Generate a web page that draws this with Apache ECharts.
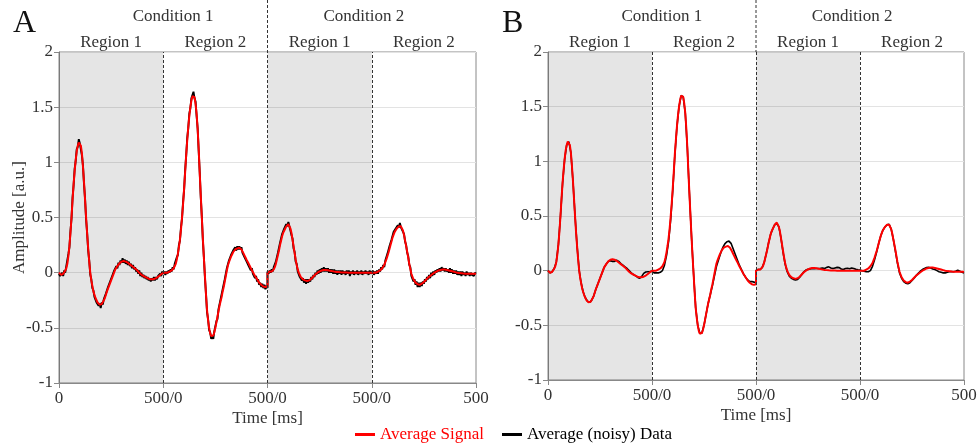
<!DOCTYPE html>
<html><head><meta charset="utf-8">
<script src="https://cdn.jsdelivr.net/npm/echarts@6/dist/echarts.min.js"></script>
<style>html,body{margin:0;padding:0;background:#fff}#c{width:980px;height:446px}</style>
</head><body><div id="c"></div>
<script>
// ---------------- data ----------------
const segLength = 500;           // ms per region
const tickLabels = ['0', '500/0', '500/0', '500/0', '500'];
const panelLetters = ['A', 'B'];
const conditionNames = ['Condition 1', 'Condition 2'];
const regionNames = ['Region 1', 'Region 2', 'Region 1', 'Region 2'];
const shadedRegions = [[0, 500], [1000, 1500]];
const boundaries = [500, 1000, 1500];
const seriesNames = ['Average Signal', 'Average (noisy) Data'];

// Average signal, 5 ms steps, one array per region
const signalC1R1 = [
 0.0,-0.01,-0.02,-0.02,-0.01,0.0,0.02,0.04,0.08,0.15,
 0.24,0.36,0.5,0.66,0.8,0.92,1.02,1.1,1.15,1.18,
 1.18,1.15,1.08,0.96,0.82,0.66,0.5,0.35,0.22,0.1,
 0.0,-0.07,-0.12,-0.17,-0.2,-0.23,-0.25,-0.27,-0.28,-0.29,
 -0.29,-0.285,-0.27,-0.25,-0.23,-0.2,-0.17,-0.145,-0.12,-0.095,
 -0.07,-0.045,-0.02,0.005,0.03,0.045,0.06,0.075,0.085,0.095,
 0.1,0.105,0.105,0.105,0.1,0.095,0.09,0.083,0.075,0.068,
 0.06,0.052,0.045,0.037,0.03,0.02,0.01,0.0,-0.01,-0.018,
 -0.025,-0.03,-0.035,-0.04,-0.045,-0.05,-0.055,-0.058,-0.06,-0.06,
 -0.06,-0.058,-0.055,-0.05,-0.045,-0.038,-0.03,-0.022,-0.015,-0.008,
 0.0];
const signalC1R2 = [
 0.0,0.0,0.0,0.0,0.0,0.005,0.01,0.015,0.02,0.03,
 0.04,0.06,0.08,0.12,0.17,0.23,0.3,0.39,0.5,0.62,
 0.76,0.91,1.07,1.2,1.32,1.42,1.5,1.56,1.6,1.61,
 1.59,1.53,1.44,1.3,1.12,0.9,0.7,0.5,0.31,0.13,
 -0.03,-0.2,-0.34,-0.43,-0.5,-0.55,-0.575,-0.58,-0.57,-0.54,
 -0.5,-0.45,-0.4,-0.35,-0.3,-0.26,-0.22,-0.17,-0.13,-0.08,
 -0.03,0.02,0.065,0.095,0.12,0.145,0.165,0.185,0.2,0.21,
 0.215,0.22,0.225,0.225,0.22,0.21,0.195,0.175,0.155,0.135,
 0.115,0.097,0.08,0.06,0.04,0.022,0.005,-0.013,-0.03,-0.045,
 -0.06,-0.075,-0.09,-0.1,-0.11,-0.118,-0.125,-0.128,-0.13,-0.128,
 -0.125];
const signalC2R1 = [
 0.0,0.005,0.01,0.01,0.01,0.02,0.03,0.05,0.08,0.12,
 0.16,0.2,0.25,0.29,0.33,0.36,0.38,0.4,0.42,0.435,
 0.44,0.43,0.4,0.36,0.3,0.24,0.18,0.12,0.07,0.03,
 0.0,-0.02,-0.04,-0.05,-0.06,-0.065,-0.07,-0.073,-0.075,-0.073,
 -0.07,-0.063,-0.055,-0.045,-0.035,-0.025,-0.015,-0.007,0.0,0.006,
 0.012,0.016,0.02,0.023,0.025,0.025,0.025,0.024,0.022,0.02,
 0.018,0.016,0.014,0.012,0.01,0.008,0.007,0.006,0.005,0.004,
 0.003,0.003,0.002,0.002,0.002,0.001,0.001,0.001,0.0,0.0,
 0.0,0.0,0.0,0.0,0.0,0.0,0.0,0.0,0.0,0.0,
 0.0,0.0,0.0,0.0,0.0,0.0,0.0,0.0,0.0,0.0,
 0.0];
const signalC2R2 = [
 0.0,0.0,0.0,0.0,0.0,0.005,0.01,0.015,0.02,0.03,
 0.04,0.055,0.07,0.095,0.12,0.15,0.18,0.215,0.25,0.285,
 0.32,0.345,0.37,0.385,0.4,0.41,0.42,0.423,0.42,0.405,
 0.38,0.34,0.29,0.24,0.19,0.135,0.08,0.035,-0.01,-0.035,
 -0.06,-0.075,-0.09,-0.1,-0.105,-0.108,-0.11,-0.105,-0.1,-0.093,
 -0.085,-0.075,-0.065,-0.055,-0.045,-0.037,-0.03,-0.022,-0.015,-0.007,
 0.0,0.005,0.01,0.015,0.02,0.023,0.025,0.027,0.028,0.028,
 0.028,0.027,0.025,0.022,0.02,0.017,0.015,0.012,0.01,0.007,
 0.005,0.002,0.0,-0.002,-0.004,-0.005,-0.006,-0.007,-0.008,-0.008,
 -0.009,-0.009,-0.01,-0.01,-0.01,-0.01,-0.01,-0.01,-0.01,-0.01,
 -0.01];

// Panel A: noisy averaged data, 5 ms steps
const noisyC1R1 = [
 -0.01,-0.03,-0.04,0.0,-0.03,0.02,0.0,0.06,0.07,0.17,
 0.23,0.38,0.49,0.68,0.79,0.94,1.01,1.12,1.14,1.21,
 1.17,1.16,1.06,0.97,0.8,0.67,0.48,0.36,0.2,0.11,
 -0.02,-0.06,-0.14,-0.16,-0.22,-0.22,-0.27,-0.26,-0.3,-0.28,
 -0.32,-0.27,-0.29,-0.24,-0.25,-0.19,-0.18,-0.13,-0.14,-0.08,
 -0.09,-0.03,-0.04,0.02,0.01,0.06,0.04,0.09,0.07,0.11,
 0.09,0.13,0.09,0.12,0.08,0.11,0.07,0.1,0.06,0.08,
 0.04,0.07,0.03,0.05,0.01,0.03,-0.01,0.02,-0.03,0.0,
 -0.04,-0.02,-0.05,-0.03,-0.06,-0.04,-0.07,-0.05,-0.08,-0.05,
 -0.07,-0.04,-0.07,-0.04,-0.06,-0.03,-0.04,-0.01,-0.03,0.01,
 -0.01];
const noisyC1R2 = [
 -0.01,0.01,-0.02,0.01,-0.01,0.02,0.0,0.03,0.01,0.05,
 0.03,0.08,0.07,0.14,0.16,0.25,0.29,0.41,0.49,0.64,
 0.75,0.93,1.06,1.22,1.31,1.44,1.49,1.58,1.59,1.64,
 1.58,1.55,1.42,1.31,1.1,0.91,0.68,0.51,0.29,0.14,
 -0.05,-0.19,-0.36,-0.42,-0.52,-0.54,-0.6,-0.57,-0.6,-0.53,
 -0.52,-0.44,-0.42,-0.33,-0.32,-0.24,-0.23,-0.15,-0.15,-0.06,
 -0.05,0.04,0.05,0.11,0.11,0.16,0.15,0.2,0.19,0.23,
 0.2,0.24,0.21,0.24,0.21,0.23,0.18,0.19,0.14,0.15,
 0.1,0.11,0.06,0.07,0.02,0.04,-0.01,0.0,-0.05,-0.03,
 -0.08,-0.06,-0.11,-0.09,-0.13,-0.1,-0.14,-0.11,-0.15,-0.12,
 -0.14];
const noisyC2R1 = [
 0.01,-0.01,0.02,0.0,0.03,0.01,0.05,0.04,0.1,0.11,
 0.18,0.19,0.27,0.28,0.35,0.35,0.4,0.39,0.44,0.42,
 0.46,0.42,0.41,0.34,0.31,0.22,0.19,0.1,0.08,0.01,
 0.01,-0.04,-0.03,-0.07,-0.05,-0.09,-0.06,-0.1,-0.06,-0.09,
 -0.06,-0.08,-0.04,-0.06,-0.02,-0.04,0.0,-0.02,0.02,-0.01,
 0.03,0.0,0.04,0.01,0.05,0.01,0.04,0.01,0.04,0.0,
 0.03,0.0,0.03,-0.01,0.03,-0.01,0.02,-0.02,0.02,-0.01,
 0.02,-0.02,0.02,-0.01,0.01,-0.02,0.02,-0.01,0.02,-0.03,
 0.01,-0.01,0.02,-0.02,0.01,-0.01,0.02,-0.02,0.01,-0.01,
 0.02,-0.02,0.01,-0.01,0.02,-0.01,0.01,-0.02,0.02,-0.01,
 0.01];
const noisyC2R2 = [
 -0.01,0.02,-0.02,0.01,-0.01,0.02,-0.01,0.03,0.01,0.05,
 0.03,0.07,0.05,0.11,0.1,0.17,0.16,0.24,0.23,0.3,
 0.31,0.37,0.36,0.4,0.39,0.43,0.41,0.45,0.41,0.42,
 0.37,0.35,0.28,0.25,0.18,0.15,0.07,0.05,-0.03,-0.02,
 -0.08,-0.06,-0.11,-0.08,-0.13,-0.09,-0.13,-0.09,-0.12,-0.08,
 -0.1,-0.06,-0.08,-0.04,-0.06,-0.02,-0.05,0.0,-0.03,0.01,
 -0.02,0.02,0.0,0.03,0.01,0.04,0.01,0.05,0.02,0.04,
 0.01,0.04,0.01,0.03,0.0,0.04,0.0,0.03,-0.01,0.02,
 -0.01,0.02,-0.02,0.01,-0.02,0.01,-0.03,0.01,-0.02,0.0,
 -0.03,0.01,-0.02,0.0,-0.03,0.0,-0.02,-0.01,-0.03,0.0,
 -0.01];

// Panel B: averaged data, 10 ms steps
const dataBC1R1 = [
 0.0,-0.02,-0.01,0.02,0.08,0.24,0.5,0.8,1.02,1.15,
 1.18,1.08,0.82,0.5,0.22,0.0,-0.12,-0.2,-0.25,-0.28,
 -0.29,-0.27,-0.23,-0.17,-0.12,-0.07,-0.02,0.03,0.06,0.085,
 0.09,0.085,0.085,0.095,0.085,0.065,0.05,0.035,0.02,0.0,
 -0.02,-0.035,-0.045,-0.06,-0.07,-0.055,-0.025,-0.012,-0.01,-0.008,
 -0.005];
const dataBC1R2 = [
 -0.01,-0.02,-0.02,-0.02,-0.015,0.0,0.05,0.14,0.27,0.47,
 0.74,1.06,1.32,1.5,1.6,1.59,1.44,1.12,0.7,0.31,
 -0.03,-0.34,-0.5,-0.575,-0.57,-0.5,-0.4,-0.3,-0.22,-0.14,
 -0.05,0.04,0.1,0.16,0.21,0.245,0.265,0.27,0.25,0.2,
 0.15,0.1,0.05,0.01,-0.03,-0.06,-0.085,-0.1,-0.1,-0.105,
 -0.11];
const dataBC2R1 = [
 0.0,0.01,0.01,0.03,0.08,0.16,0.25,0.33,0.38,0.42,
 0.43,0.4,0.3,0.17,0.06,-0.01,-0.05,-0.07,-0.08,-0.085,
 -0.08,-0.06,-0.035,-0.01,0.005,0.012,0.015,0.02,0.018,0.02,
 0.02,0.022,0.025,0.02,0.03,0.035,0.025,0.02,0.025,0.03,
 0.028,0.015,0.01,0.02,0.022,0.018,0.025,0.02,0.012,0.008,
 0.005];
const dataBC2R2 = [
 0.0,0.0,-0.005,-0.01,-0.01,0.0,0.04,0.1,0.17,0.25,
 0.32,0.37,0.4,0.42,0.425,0.38,0.29,0.18,0.07,-0.02,
 -0.07,-0.1,-0.115,-0.12,-0.11,-0.09,-0.07,-0.045,-0.025,-0.005,
 0.01,0.02,0.028,0.03,0.025,0.015,0.01,0.0,-0.01,-0.015,
 -0.02,-0.02,-0.015,-0.01,-0.008,-0.01,-0.005,0.005,-0.005,-0.015,
 -0.02];

// ---------------- build ----------------
const FONT = '"Liberation Serif", "Times New Roman", serif';
const TXT = '#333';
const AX = '#888';
function build(segs, step) {
  const out = [];
  segs.forEach((arr, s) => arr.forEach((v, i) => out.push([s * segLength + i * step, v])));
  return out;
}
const signal = build([signalC1R1, signalC1R2, signalC2R1, signalC2R2], 5);
const noisyA = build([noisyC1R1, noisyC1R2, noisyC2R1, noisyC2R2], 5);
const dataB = build([dataBC1R1, dataBC1R2, dataBC2R1, dataBC2R2], 10);

const grids = [
  {left: 59, top: 52, width: 417, height: 331},
  {left: 548, top: 52, width: 416, height: 328}
];

function xAxis(g) {
  return {
    gridIndex: g, type: 'value', min: 0, max: 2000, interval: 500,
    axisLine: {show: true, onZero: false, lineStyle: {color: AX, width: 1}},
    axisTick: {show: true, length: 5, lineStyle: {color: AX}},
    axisLabel: {formatter: v => tickLabels[Math.round(v / segLength)], fontSize: 17, fontFamily: FONT, color: TXT, margin: 7, showMinLabel: true, showMaxLabel: true},
    splitLine: {show: false},
    name: 'Time [ms]', nameLocation: 'middle', nameGap: 27, nameMoveOverlap: false,
    nameTextStyle: {fontSize: 17, fontFamily: FONT, color: TXT}
  };
}
function yAxis(g) {
  return {
    gridIndex: g, type: 'value', min: -1, max: 2, interval: 0.5,
    axisLine: {show: true, lineStyle: {color: AX, width: 1}},
    axisTick: {show: true, length: 5, lineStyle: {color: AX}},
    axisLabel: {fontSize: 17, fontFamily: FONT, color: TXT, margin: 6, showMinLabel: true, showMaxLabel: true},
    splitLine: {show: true, lineStyle: {color: '#e3e3e3', width: 1}},
    name: g === 0 ? 'Amplitude [a.u.]' : '', nameLocation: 'middle', nameGap: 31, nameMoveOverlap: false,
    nameTextStyle: {fontSize: 17, fontFamily: FONT, color: TXT}
  };
}
function decor(g) {
  return {
    type: 'line', xAxisIndex: g, yAxisIndex: g, data: [], silent: true, z: 1,
    markArea: {silent: true, itemStyle: {color: 'rgba(0,0,0,0.1)'},
      data: shadedRegions.map(r => [{xAxis: r[0]}, {xAxis: r[1]}])},
    markLine: {silent: true, symbol: 'none', label: {show: false},
      lineStyle: {type: [3, 2], color: '#333', width: 1},
      data: boundaries.map(b => ({xAxis: b}))}
  };
}
function line(g, name, data, color, width, z) {
  return {type: 'line', name, xAxisIndex: g, yAxisIndex: g, data, showSymbol: false, symbol: 'none',
    animation: false, z, lineStyle: {color, width}, itemStyle: {color}};
}

const chart = echarts.init(document.getElementById('c'), null, {renderer: 'canvas'});
chart.setOption({
  animation: false,
  backgroundColor: '#fff',
  grid: grids.map(g => Object.assign({show: true, borderColor: AX, borderWidth: 1, backgroundColor: 'transparent', containLabel: false, outerBoundsMode: 'none'}, g)),
  xAxis: [xAxis(0), xAxis(1)],
  yAxis: [yAxis(0), yAxis(1)],
  legend: {
    left: 350, top: 421, icon: 'rect', itemWidth: 20, itemHeight: 3, itemGap: 18,
    textStyle: {fontSize: 17, fontFamily: FONT},
    data: [
      {name: seriesNames[0], textStyle: {color: 'red'}},
      {name: seriesNames[1], textStyle: {color: '#000'}}
    ]
  },
  series: [
    decor(0), decor(1),
    line(0, seriesNames[1], noisyA, '#000', 1.9, 3),
    line(0, seriesNames[0], signal, 'red', 2, 4),
    line(1, seriesNames[1], dataB, '#000', 1.6, 3),
    line(1, seriesNames[0], signal, 'red', 2, 4)
  ]
});

// labels above the plots, positioned through the axes' scales
const conditionCenters = [547, 1462];
const graphics = [];
[0, 1].forEach(g => {
  const top = chart.convertToPixel({gridIndex: g}, [0, 2])[1];
  const left = chart.convertToPixel({gridIndex: g}, [0, 2])[0];
  regionNames.forEach((r, i) => {
    const x = chart.convertToPixel({gridIndex: g}, [i * segLength + segLength / 2, 2])[0];
    graphics.push({type: 'text', silent: true, style: {text: r, x, y: top - 9, font: '17px ' + FONT, fill: TXT, align: 'center', verticalAlign: 'middle', textAlign: 'center', textVerticalAlign: 'middle'}});
  });
  conditionNames.forEach((c, i) => {
    const x = chart.convertToPixel({gridIndex: g}, [conditionCenters[i], 2])[0];
    graphics.push({type: 'text', silent: true, style: {text: c, x, y: top - 35, font: '17px ' + FONT, fill: TXT, align: 'center', verticalAlign: 'middle', textAlign: 'center', textVerticalAlign: 'middle'}});
  });
  const mid = chart.convertToPixel({gridIndex: g}, [boundaries[1], 2]);
  graphics.push({type: 'line', silent: true, shape: {x1: mid[0], y1: 0, x2: mid[0], y2: mid[1]},
    style: {stroke: '#333', lineWidth: 1, lineDash: [3, 2]}});
  graphics.push({type: 'text', silent: true, style: {text: panelLetters[g], x: left - 46, y: top - 28, font: '32px ' + FONT, fill: '#111', align: 'left', verticalAlign: 'middle', textAlign: 'left', textVerticalAlign: 'middle'}});
});
chart.setOption({graphic: graphics});
</script>
</body></html>
